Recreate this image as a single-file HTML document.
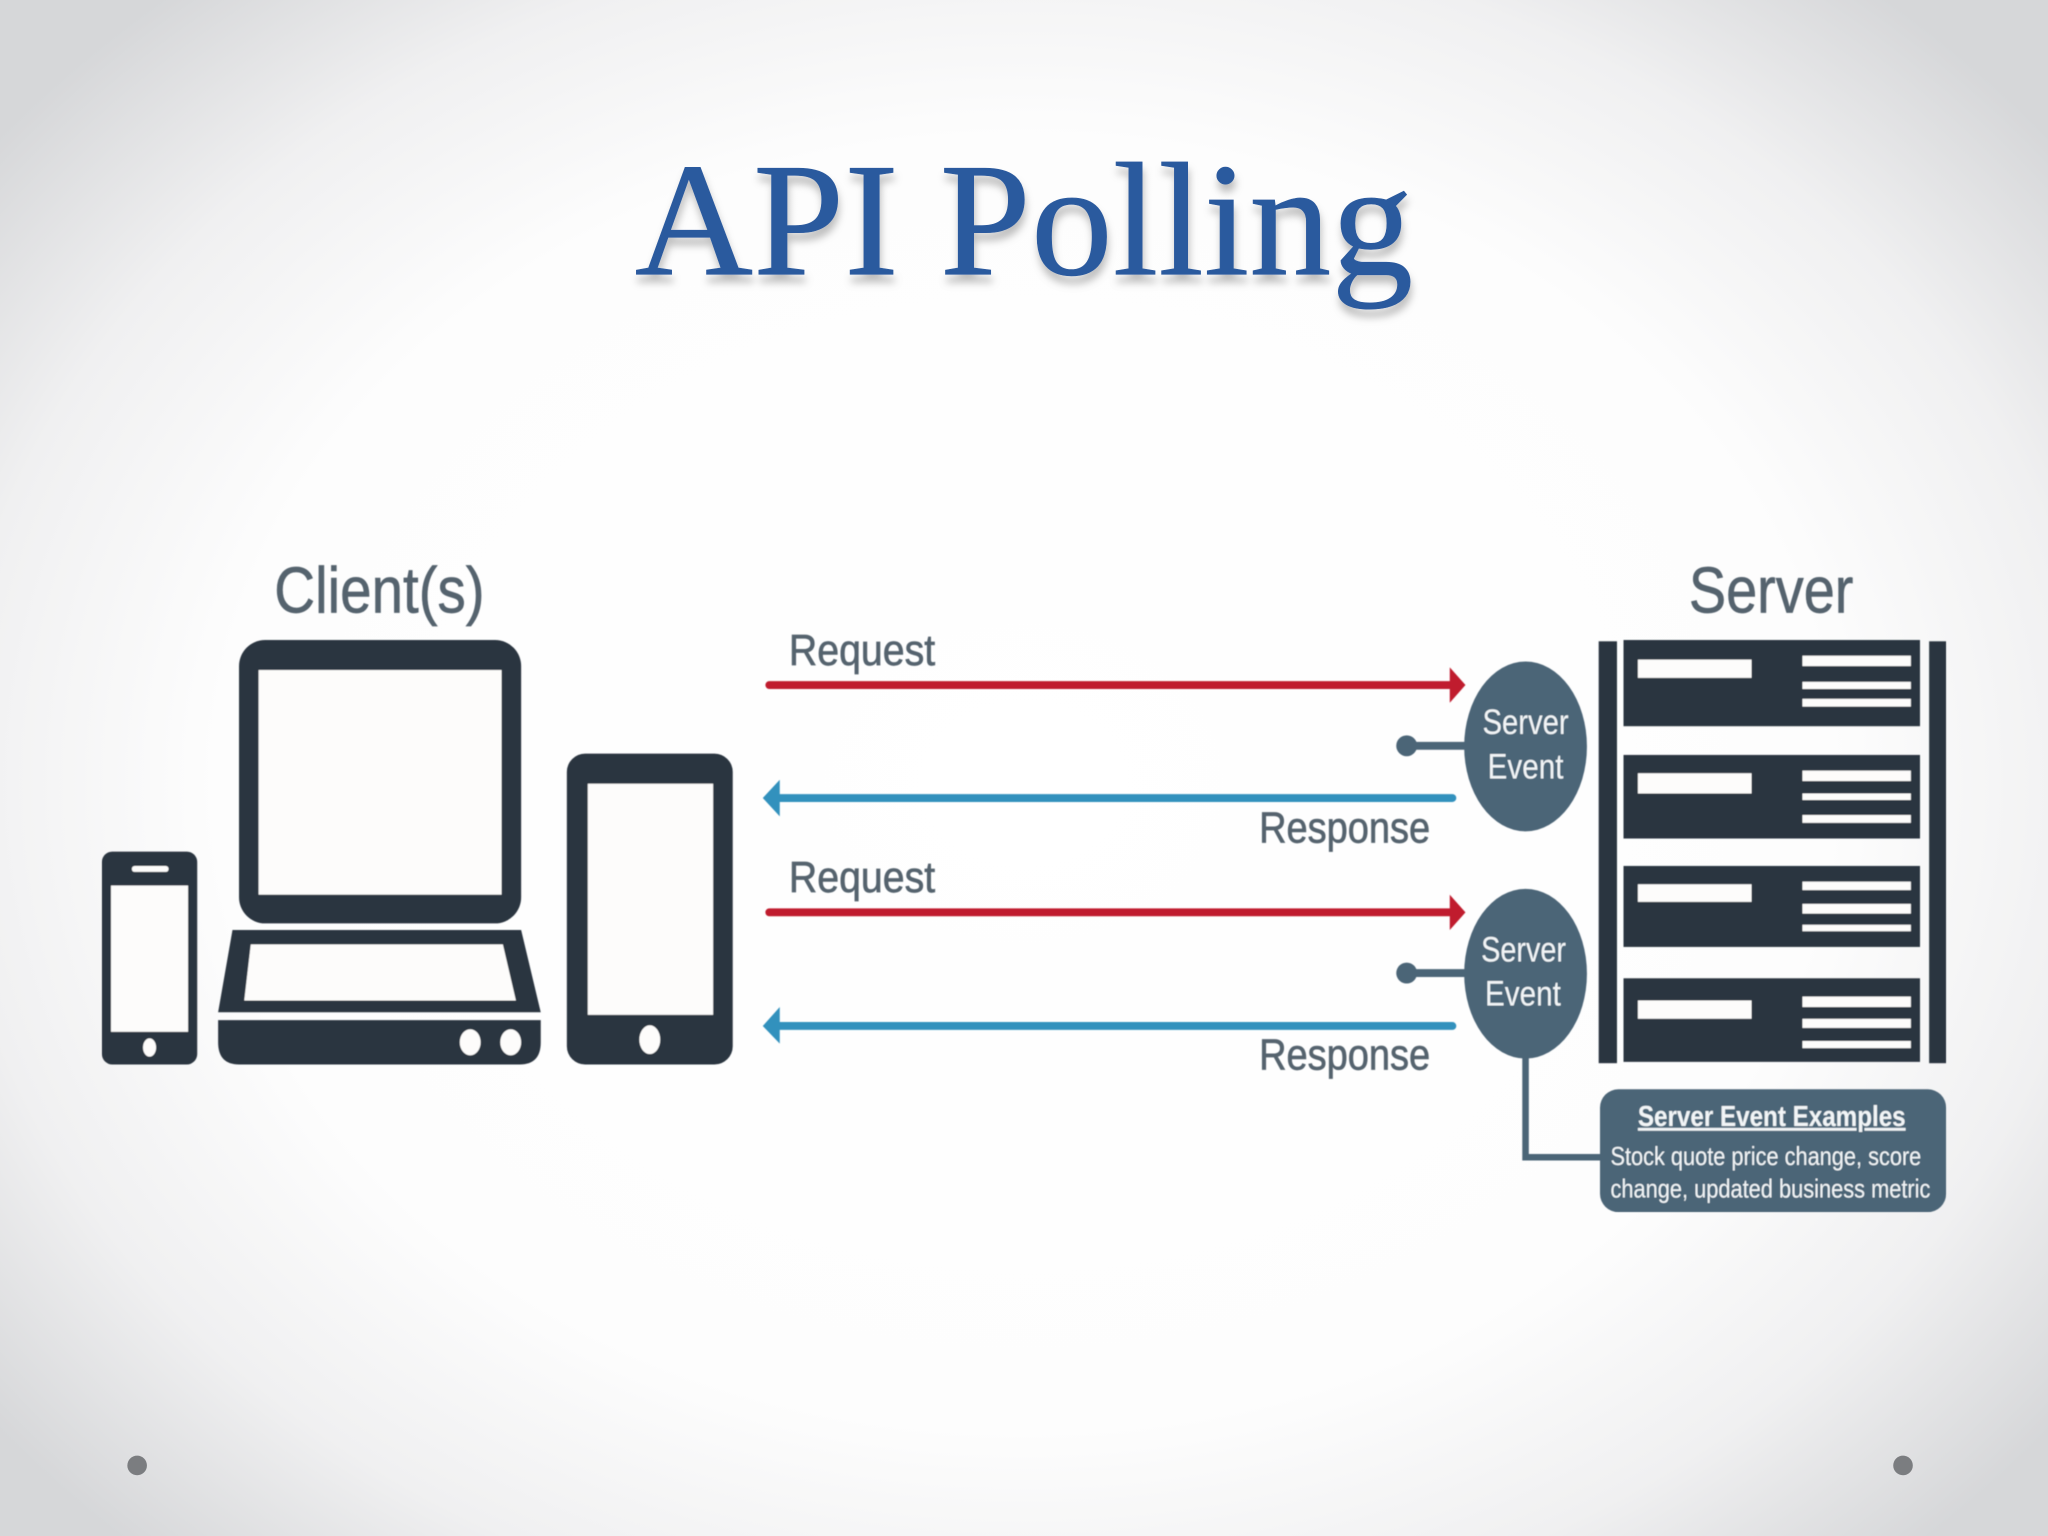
<!DOCTYPE html>
<html><head><meta charset="utf-8"><style>
html,body{margin:0;padding:0;width:2048px;height:1536px;overflow:hidden;background:#fff}
svg{display:block}
text{font-family:"Liberation Sans",sans-serif}
</style></head><body>
<svg xmlns="http://www.w3.org/2000/svg" width="2048" height="1536" viewBox="0 0 1568 1176">
<defs>
<radialGradient id="bg" gradientUnits="userSpaceOnUse" cx="784" cy="600" r="1000" gradientTransform="translate(784 600) scale(1 0.8) translate(-784 -600)">
<stop offset="0" stop-color="#fff"/><stop offset="0.62" stop-color="#fdfdfd"/><stop offset="0.82" stop-color="#f0f0f1"/><stop offset="1" stop-color="#d6d7d9"/>
</radialGradient>
<filter id="ts" x="-5%" y="-10%" width="110%" height="130%"><feDropShadow dx="1" dy="6" stdDeviation="3" flood-color="#000" flood-opacity="0.25"/></filter>
<filter id="soft" x="0" y="0" width="100%" height="100%"><feGaussianBlur stdDeviation="0.4"/></filter>
</defs>
<rect width="1568" height="1176" fill="url(#bg)"/>
<text x="486" y="210" font-size="124" fill="#2c5a9e" stroke="#2c5a9e" stroke-width="0.5" textLength="596" lengthAdjust="spacingAndGlyphs" filter="url(#ts)" style="font-family:'Liberation Serif',serif">API Polling</text>

<g filter="url(#soft)">
<g fill="#2b3640">
<rect x="78" y="652" width="73" height="163" rx="8"/>
<rect x="183" y="490" width="216" height="217" rx="20"/>
<path d="M178 712H399L414 775H167Z"/>
<path d="M167 781H414V798Q414 815 398 815H183Q167 815 167 798Z"/>
<rect x="434" y="577" width="127" height="238" rx="14"/>
<rect x="1224" y="491" width="14" height="323"/>
<rect x="1477" y="491" width="13" height="323"/>
<rect x="1243" y="490" width="227" height="66"/>
<rect x="1243" y="578" width="227" height="64"/>
<rect x="1243" y="663" width="227" height="62"/>
<rect x="1243" y="749" width="227" height="64"/>
</g>
<g fill="#fdfcfb">
<rect x="85" y="678" width="59" height="112"/>
<rect x="101" y="663" width="28" height="4.500" rx="2"/>
<ellipse cx="114.500" cy="802" rx="5" ry="7"/>
<rect x="198" y="513" width="186" height="172"/>
<path d="M192 723H385L395 766H187Z"/>
<ellipse cx="360" cy="798" rx="8" ry="10"/>
<ellipse cx="391" cy="798" rx="8" ry="10"/>
<rect x="450" y="600" width="96" height="177"/>
<ellipse cx="497.500" cy="796" rx="8" ry="11"/>
<rect x="1254" y="505" width="87" height="14"/>
<rect x="1380" y="502" width="83" height="8"/><rect x="1380" y="522" width="83" height="5.500"/><rect x="1380" y="535" width="83" height="6"/>
<rect x="1254" y="592" width="87" height="15.500"/>
<rect x="1380" y="590" width="83" height="8"/><rect x="1380" y="607.500" width="83" height="5"/><rect x="1380" y="624" width="83" height="6"/>
<rect x="1254" y="677" width="87" height="13.500"/>
<rect x="1380" y="675" width="83" height="6.500"/><rect x="1380" y="692" width="83" height="7.500"/><rect x="1380" y="708" width="83" height="5"/>
<rect x="1254" y="766" width="87" height="14"/>
<rect x="1380" y="763" width="83" height="8"/><rect x="1380" y="780" width="83" height="7"/><rect x="1380" y="797" width="83" height="5.500"/>
</g>

<g stroke-width="6" stroke-linecap="round" fill="none">
<path d="M589 524.500H1112" stroke="#c01f2e"/>
<path d="M589 698.500H1112" stroke="#c01f2e"/>
<path d="M592 611H1112" stroke="#3391bd"/>
<path d="M592 785.500H1112" stroke="#3391bd"/>
</g>
<path d="M1110 511L1122 524.500L1110 538Z" fill="#c01f2e"/>
<path d="M1110 685L1122 698.500L1110 712Z" fill="#c01f2e"/>
<path d="M597 597L584 611L597 625Z" fill="#3391bd"/>
<path d="M597 771L584 785.500L597 799Z" fill="#3391bd"/>

<g fill="#55636e" stroke="#55636e" stroke-width="0.5">
<text x="210" y="469" font-size="50" textLength="161" lengthAdjust="spacingAndGlyphs">Client(s)</text>
<text x="1293" y="469" font-size="50" textLength="126" lengthAdjust="spacingAndGlyphs">Server</text>
<text x="604" y="509" font-size="33" textLength="112" lengthAdjust="spacingAndGlyphs">Request</text>
<text x="604" y="683" font-size="33" textLength="112" lengthAdjust="spacingAndGlyphs">Request</text>
<text x="964" y="645" font-size="33" textLength="131" lengthAdjust="spacingAndGlyphs">Response</text>
<text x="964" y="819" font-size="33" textLength="131" lengthAdjust="spacingAndGlyphs">Response</text>
</g>

<g fill="#4b6577" stroke="none">
<ellipse cx="1168" cy="571.500" rx="47" ry="65"/>
<ellipse cx="1168" cy="745.500" rx="47" ry="65"/>
<circle cx="1077" cy="571" r="8"/>
<circle cx="1077" cy="745" r="8"/>
<rect x="1225" y="834" width="265" height="94" rx="14"/>
</g>
<g stroke="#4b6577" fill="none" stroke-width="6">
<path d="M1077 571H1125"/>
<path d="M1077 745H1125"/>
<path d="M1168 808V886H1228" stroke-width="5"/>
</g>

<g fill="#f2f5f7">
<text x="1135" y="562" font-size="27" textLength="66" lengthAdjust="spacingAndGlyphs">Server</text>
<text x="1139" y="596" font-size="27" textLength="58" lengthAdjust="spacingAndGlyphs">Event</text>
<text x="1134" y="736" font-size="27" textLength="65" lengthAdjust="spacingAndGlyphs">Server</text>
<text x="1137" y="770" font-size="27" textLength="58" lengthAdjust="spacingAndGlyphs">Event</text>
<text x="1254" y="862" font-size="22" font-weight="bold" textLength="205" lengthAdjust="spacingAndGlyphs" text-decoration="underline">Server Event Examples</text>
<text x="1233" y="892" font-size="20" textLength="238" lengthAdjust="spacingAndGlyphs">Stock quote price change, score</text>
<text x="1233" y="917" font-size="20" textLength="245" lengthAdjust="spacingAndGlyphs">change, updated business metric</text>
</g>
</g>

<circle cx="105" cy="1122" r="7.500" fill="#7b7d80"/>
<circle cx="1457" cy="1122" r="7.500" fill="#7b7d80"/>
</svg>
</body></html>
